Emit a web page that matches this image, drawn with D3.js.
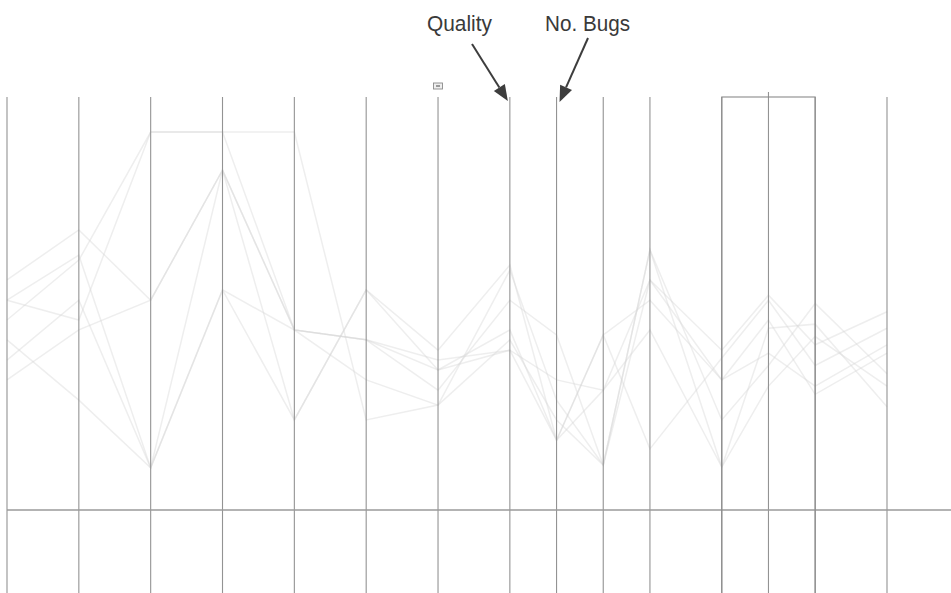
<!DOCTYPE html>
<html>
<head>
<meta charset="utf-8">
<script src="https://cdn.jsdelivr.net/npm/d3@7"></script>
<style>
  html, body { margin: 0; padding: 0; background: #fff; }
  svg { display: block; }
</style>
</head>
<body>
<svg id="chart" width="951" height="593"></svg>
<script>
// Metric axes, left to right
const dimensions = ["LOC", "Complexity", "Coupling", "Cohesion", "Churn", "Authors", "Age",
  "Quality", "No. Bugs", "Fix Time", "Reopen Rate", "Test Cov.", "Reviews", "Warnings", "Size"];

// One record per module, values on a 0–100 scale for every axis
const moduleA = [50.8, 61.7, 10.2, 53.3, 43.6, 41.2, 33.9, 38.7, 16.9, 42.4, 50.8, 31.5, 38.0, 30.0, 40.0];
const moduleB = [41.2, 26.6, 10.2, 82.3, 43.6, 41.2, 29.0, 50.8, 42.4, 10.9, 63.0, 10.4, 44.0, 45.0, 25.0];
const moduleC = [55.7, 67.8, 50.8, 82.3, 21.8, 53.3, 38.7, 59.3, 16.9, 29.0, 55.7, 38.7, 52.0, 40.0, 48.0];
const moduleD = [46.0, 60.5, 91.5, 91.5, 91.5, 21.8, 25.4, 58.1, 26.6, 10.9, 63.0, 21.8, 35.0, 50.0, 33.0];
const moduleE = [36.3, 50.8, 10.2, 53.3, 21.8, 53.3, 33.9, 43.6, 16.9, 42.4, 14.8, 36.8, 50.8, 35.0, 44.0];
const moduleF = [50.8, 46.0, 91.5, 91.5, 43.6, 41.2, 36.3, 38.7, 31.5, 29.0, 43.6, 10.4, 30.0, 42.0, 30.0];
const moduleG = [31.5, 43.6, 50.8, 82.3, 43.6, 31.5, 25.4, 41.2, 21.8, 10.9, 55.7, 31.5, 46.0, 28.0, 38.0];
const modules = [moduleA, moduleB, moduleC, moduleD, moduleE, moduleF, moduleG];

// Axes that are linked for brushing sit closer together
const tightAxes = ["No. Bugs", "Fix Time", "Reopen Rate", "Reviews", "Warnings"];
const boxedAxes = ["Test Cov.", "Warnings"];
const activeAxis = "Reviews";

const svg = d3.select("#chart");

// Cumulative slot position: 1 between normal axes, 0.65 into a tight axis
const slots = [];
dimensions.forEach((d, i) => {
  slots.push(i === 0 ? 0 : slots[i - 1] + (tightAxes.includes(d) ? 0.65 : 1));
});
const x = d3.scaleLinear().domain([0, slots[slots.length - 1]]).range([7, 887]);
const xOf = d => x(slots[dimensions.indexOf(d)]);

const y = d3.scaleLinear().domain([0, 100]).range([510, 97]);

// Module polylines, drawn faint so overlaps build up density
const line = d3.line()
  .x((v, i) => x(slots[i]))
  .y(v => y(v));

svg.append("g")
  .selectAll("path")
  .data(modules)
  .join("path")
  .attr("d", line)
  .attr("fill", "none")
  .attr("stroke", "#d6d6d6")
  .attr("stroke-opacity", 0.42)
  .attr("stroke-width", 1.5);

// Vertical axes
svg.append("g")
  .selectAll("line")
  .data(dimensions)
  .join("line")
  .attr("x1", d => xOf(d))
  .attr("x2", d => xOf(d))
  .attr("y1", d => d === activeAxis ? y(100) - 5 : y(100))
  .attr("y2", 600)
  .attr("stroke", "#939393")
  .attr("stroke-width", 1.1);

// Baseline
svg.append("line")
  .attr("x1", x(0)).attr("x2", 951)
  .attr("y1", y(0)).attr("y2", y(0))
  .attr("stroke", "#9a9a9a")
  .attr("stroke-width", 1.5);

// Brushed axis group outline
const bx0 = xOf(boxedAxes[0]), bx1 = xOf(boxedAxes[1]);
svg.append("rect")
  .attr("x", bx0).attr("y", y(100))
  .attr("width", bx1 - bx0).attr("height", 600 - y(100))
  .attr("fill", "none")
  .attr("stroke", "#8a8a8a")
  .attr("stroke-width", 1.1);

// Small handle above the "Age" axis
const hx = xOf("Age");
svg.append("rect")
  .attr("x", hx - 4.5).attr("y", 83).attr("width", 9).attr("height", 6)
  .attr("fill", "#efefef").attr("stroke", "#8a8a8a").attr("stroke-width", 0.9);
svg.append("rect")
  .attr("x", hx - 2).attr("y", 85).attr("width", 4).attr("height", 2)
  .attr("fill", "#9a9a9a");

// Callouts for two axes
const callouts = [
  { axis: "Quality", label: "Quality", tx: 459.5, len: 65, from: [472, 44], to: [-2, 101] },
  { axis: "No. Bugs", label: "No. Bugs", tx: 587.5, len: 85, from: [588, 38], to: [3, 102] }
];
const ann = svg.append("g");
callouts.forEach(c => {
  const tip = [xOf(c.axis) + c.to[0], c.to[1]];
  const dx = tip[0] - c.from[0], dy = tip[1] - c.from[1];
  const L = Math.hypot(dx, dy), ux = dx / L, uy = dy / L;
  const headLen = 16, headHalf = 6.5;
  const base = [tip[0] - ux * headLen, tip[1] - uy * headLen];
  ann.append("line")
    .attr("x1", c.from[0]).attr("y1", c.from[1])
    .attr("x2", base[0]).attr("y2", base[1])
    .attr("stroke", "#3d3d3d").attr("stroke-width", 2);
  ann.append("path")
    .attr("d", d3.line()([
      tip,
      [base[0] - uy * headHalf, base[1] + ux * headHalf],
      [base[0] + uy * headHalf, base[1] - ux * headHalf]
    ]) + "Z")
    .attr("fill", "#3d3d3d");
  ann.append("text")
    .attr("x", c.tx).attr("y", 31)
    .attr("text-anchor", "middle")
    .attr("font-family", "'Liberation Sans', Arial, sans-serif")
    .attr("font-size", 22)
    .attr("textLength", c.len)
    .attr("lengthAdjust", "spacingAndGlyphs")
    .attr("fill", "#3a3a3a")
    .text(c.label);
});
</script>
</body>
</html>
